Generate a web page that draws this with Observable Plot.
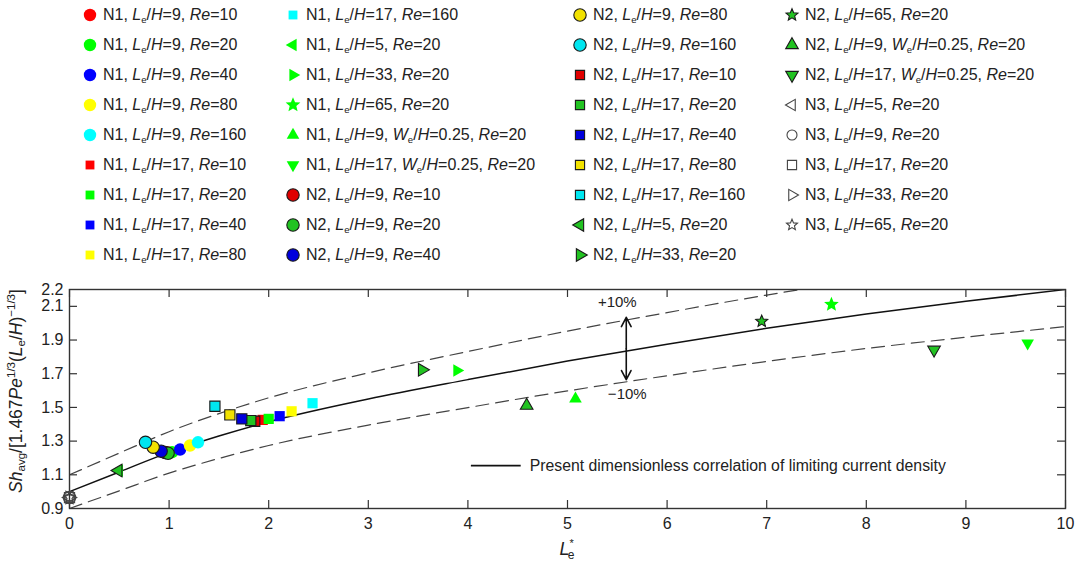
<!DOCTYPE html>
<html><head><meta charset="utf-8">
<script src="https://cdn.jsdelivr.net/npm/d3@7"></script>
<script src="https://cdn.jsdelivr.net/npm/@observablehq/plot@0.6"></script>
<style>
body{margin:0;background:#fff;font-family:"Liberation Sans",Arial,sans-serif;}
#wrap{position:relative;width:1078px;height:565px;overflow:hidden;background:#fff;}
#legend{position:absolute;left:0;top:0;width:1078px;height:270px;}
.sym{position:absolute;width:20px;height:30px;}
.lab{position:absolute;height:30px;line-height:30px;font-size:16px;color:#222;white-space:nowrap;}
.lab sub{font-size:0.6em;vertical-align:-0.3em;line-height:0;}
#chart{position:absolute;left:0;top:270px;}
</style></head><body><div id="wrap"><div id="legend"></div><div id="chart"></div></div>
<script>
// ---------- data ----------
const xTicks = [0,1,2,3,4,5,6,7,8,9,10];
const yTickLabels = [0.9,1.1,1.3,1.5,1.7,1.9,2.1,2.2];
const yTickMarks = [1.1,1.3,1.5,1.7,1.9,2.1];

const seriesNet = ["N1","N1","N1","N1","N1","N1","N1","N1","N1","N1","N1","N1","N1","N1","N1",
                   "N2","N2","N2","N2","N2","N2","N2","N2","N2","N2","N2","N2","N2","N2","N2",
                   "N3","N3","N3","N3","N3"];
const seriesLH  = [9,9,9,9,9,17,17,17,17,17,5,33,65,9,17,
                   9,9,9,9,9,17,17,17,17,17,5,33,65,9,17,
                   5,9,17,33,65];
const seriesWH  = [null,null,null,null,null,null,null,null,null,null,null,null,null,0.25,0.25,
                   null,null,null,null,null,null,null,null,null,null,null,null,null,0.25,0.25,
                   null,null,null,null,null];
const seriesRe  = [10,20,40,80,160,10,20,40,80,160,20,20,20,20,20,
                   10,20,40,80,160,10,20,40,80,160,20,20,20,20,20,
                   20,20,20,20,20];
const seriesX   = [0.99,1.03,1.11,1.21,1.29, 1.94,2.00,2.11,2.23,2.44, 0.50,3.89,7.65,5.08,9.62,
                   0.96,0.99,0.92,0.84,0.763, 1.86,1.82,1.73,1.61,1.46, 0.49,3.54,6.95,4.59,8.68,
                   0,0,0,0,0];
const seriesY   = [1.232,1.234,1.25,1.274,1.293, 1.426,1.432,1.448,1.477,1.525, 1.125,1.719,2.111,1.551,1.881,
                   1.232,1.228,1.24,1.264,1.293, 1.418,1.422,1.432,1.456,1.507, 1.125,1.723,2.011,1.511,1.842,
                   0.965,0.965,0.965,0.965,0.965];

// correlation curve and ±10 % bounds
const corrX  = [0,0.5,1,1.5,2,3,4,5,6,7,8,9,10];
const corrY  = [1.00,1.117,1.233,1.33,1.415,1.55,1.665,1.775,1.875,1.97,2.055,2.13,2.2];
const upperY = [1.10,1.229,1.356,1.463,1.557,1.705,1.832,1.953,2.063,2.167,2.26,2.343,2.42];
const lowerY = [0.90,1.005,1.11,1.197,1.274,1.395,1.499,1.598,1.688,1.773,1.85,1.917,1.98];

// ---------- symbols ----------
const deg = Math.PI/180;
function poly(angles, k){
  return {draw(ctx,size){const R=Math.sqrt(size/Math.PI)*k;
    angles.forEach((a,i)=>{const x=R*Math.cos(a*deg), y=R*Math.sin(a*deg); i?ctx.lineTo(x,y):ctx.moveTo(x,y);});
    ctx.closePath();}};
}
const triUp = poly([-90,30,150],1.3), triDown = poly([90,210,330],1.3);
const triLeft = poly([180,300,60],1.3), triRight = poly([0,120,240],1.3);
const circle = {draw(ctx,size){const R=Math.sqrt(size/Math.PI); ctx.moveTo(R,0); ctx.arc(0,0,R,0,2*Math.PI); ctx.closePath();}};
const square = {draw(ctx,size){const R=Math.sqrt(size/Math.PI)*0.85; ctx.moveTo(-R,-R); ctx.lineTo(R,-R); ctx.lineTo(R,R); ctx.lineTo(-R,R); ctx.closePath();}};
const star = {draw(ctx,size){const R=Math.sqrt(size/Math.PI)*1.25, r=R*0.45;
  for(let i=0;i<10;i++){const a=-Math.PI/2+i*Math.PI/5, rr=i%2?r:R, x=rr*Math.cos(a), y=rr*Math.sin(a); i?ctx.lineTo(x,y):ctx.moveTo(x,y);} ctx.closePath();}};

const reColor   = {10:"#ff0000",20:"#00ff00",40:"#0000ff",80:"#ffff00",160:"#00ffff"};
const reColorN2 = {10:"#e00000",20:"#22c322",40:"#0000dd",80:"#f2e200",160:"#00e6f0"};
function shapeOf(i){const lh=seriesLH[i]; if(seriesWH[i]) return lh===9?triUp:triDown; return {9:circle,17:square,5:triLeft,33:triRight,65:star}[lh];}
function sizeOf(i, leg){const s=shapeOf(i), n=seriesNet[i];
  if(s===star) return n==="N1"?6.2:(n==="N2"?5:4.6);
  if(leg && s===square) return n==="N1"?5.2:5.4;
  if(leg && n==="N3") return 5;
  return s===circle?6.2:s===square?6:5.6;}
function styleOf(i){const n=seriesNet[i];
  if(n==="N1") return {fill:reColor[seriesRe[i]], stroke:"none"};
  if(n==="N2") return {fill:reColorN2[seriesRe[i]], stroke:"#1a1a1a", strokeWidth:1.1};
  return {fill:"none", stroke:"#444", strokeWidth:1.1};}

// ---------- legend ----------
const legend = document.getElementById("legend");
const colCenter = [90,293,580,792];
seriesNet.forEach((n,i)=>{
  const col=Math.floor(i/9), row=i%9, cy=15+row*30, cx=colCenter[col];
  const st=styleOf(i), r=sizeOf(i,true);
  const p=d3.path(); shapeOf(i).draw(p,r*r*Math.PI);
  const s=document.createElementNS("http://www.w3.org/2000/svg","svg");
  s.setAttribute("class","sym"); s.setAttribute("width",20); s.setAttribute("height",30);
  s.style.left=(cx-10)+"px"; s.style.top=(cy-15)+"px";
  s.innerHTML=`<path transform="translate(10,15)" d="${p}" fill="${st.fill}" stroke="${st.stroke}" stroke-width="${st.strokeWidth||0}"/>`;
  legend.appendChild(s);
  const t=document.createElement("div"); t.className="lab";
  t.style.left=(cx+13)+"px"; t.style.top=(cy-15)+"px";
  t.innerHTML=`${n}, <i>L</i><sub>e</sub>/<i>H</i>=${seriesLH[i]}, `+(seriesWH[i]?`<i>W</i><sub>e</sub>/<i>H</i>=${seriesWH[i]}, `:"")+`<i>Re</i>=${seriesRe[i]}`;
  legend.appendChild(t);
});

// ---------- chart ----------
const W=1078,H=295,mL=69,mR=13,mT=19,mB=57, innerW=W-mL-mR, innerH=H-mT-mB;
const pts = seriesNet.map((n,i)=>({x:seriesX[i], y:seriesY[i]}));
const curve = (ys)=>corrX.map((x,i)=>({x, y:ys[i]}));

const svg = Plot.plot({
  width:W, height:H, marginLeft:mL, marginRight:mR, marginTop:mT, marginBottom:mB,
  style:{fontFamily:"Liberation Sans, Arial, sans-serif", color:"#222", background:"transparent"},
  x:{domain:[0,10]}, y:{domain:[0.9,2.2]},
  marks:[
    Plot.line(curve(upperY),{x:"x",y:"y",stroke:"#444",strokeWidth:1.2,strokeDasharray:"13,7",curve:"monotone-x",clip:true}),
    Plot.line(curve(lowerY),{x:"x",y:"y",stroke:"#444",strokeWidth:1.2,strokeDasharray:"13,7",curve:"monotone-x",clip:true}),
    Plot.line(curve(corrY),{x:"x",y:"y",stroke:"#111",strokeWidth:1.5,curve:"monotone-x",clip:true}),
    Plot.tickX(xTicks,{x:d=>d,insetTop:innerH-8,stroke:"#333",strokeWidth:1.2}),
    Plot.tickX(xTicks,{x:d=>d,insetBottom:innerH-8,stroke:"#333",strokeWidth:1.2}),
    Plot.tickY(yTickMarks,{y:d=>d,insetRight:innerW-8,stroke:"#333",strokeWidth:1.2}),
    Plot.tickY(yTickMarks,{y:d=>d,insetLeft:innerW-8,stroke:"#333",strokeWidth:1.2}),
    Plot.frame({stroke:"#333",strokeWidth:1.4}),
    Plot.axisX({ticks:xTicks,tickSize:0,tickPadding:9,fontSize:16,tickFormat:d=>String(d),label:null}),
    Plot.axisY({ticks:yTickLabels,tickSize:0,tickPadding:6,fontSize:16,tickFormat:d=>d.toFixed(1),label:null}),
    // annotations
    Plot.arrow([{x1:5.59,y1:1.848,x2:5.59,y2:2.035}],{x1:"x1",y1:"y1",x2:"x2",y2:"y2",stroke:"#111",strokeWidth:1.6,headLength:12,headAngle:55}),
    Plot.arrow([{x1:5.59,y1:1.848,x2:5.59,y2:1.665}],{x1:"x1",y1:"y1",x2:"x2",y2:"y2",stroke:"#111",strokeWidth:1.6,headLength:12,headAngle:55}),
    Plot.text(["+10%"],{x:5.5,y:2.122,text:d=>d,fontSize:15,fill:"#222"}),
    Plot.text(["\u221210%"],{x:5.6,y:1.577,text:d=>d,fontSize:15,fill:"#222"}),
    Plot.link([{x1:4.03,x2:4.53,y:1.155}],{x1:"x1",x2:"x2",y1:"y",y2:"y",stroke:"#111",strokeWidth:1.8}),
    Plot.text(["Present dimensionless correlation of limiting current density"],{x:4.62,y:1.155,text:d=>d,textAnchor:"start",fontSize:15.8,fill:"#222"}),
    // data points
    ...pts.map((d,i)=>Plot.dot([d],{x:"x",y:"y",symbol:shapeOf(i),r:sizeOf(i,false),...styleOf(i)}))
  ]
});
document.getElementById("chart").appendChild(svg);

// axis titles with sub/superscripts
const sel=d3.select(svg);
const yl=sel.append("text").attr("transform",`translate(22,${121}) rotate(-90)`).attr("text-anchor","middle")
  .attr("font-size",17.5).attr("fill","#222");
const parts=[["Sh","i",0],["avg","",-1],["/[1.467","",0],["Pe","i",0],["1/3","",1],["(","",0],["L","i",0],["e","",-1],["/","",0],["H","i",0],[")","",0],["\u22121/3","",1],["]","",0]];
parts.forEach(([t,it,sh])=>{const ts=yl.append("tspan").text(t);
  if(it) ts.attr("font-style","italic");
  if(sh<0) ts.attr("font-size",11.5).attr("baseline-shift","-25%");
  if(sh>0) ts.attr("font-size",11.5).attr("baseline-shift","55%");});
const xl=sel.append("text").attr("x",mL+innerW/2).attr("y",285).attr("text-anchor","middle").attr("font-size",18).attr("fill","#222");
xl.append("tspan").text("L").attr("font-style","italic");
xl.append("tspan").text("*").attr("font-size",11).attr("baseline-shift","70%");
xl.append("tspan").text("e").attr("font-size",12).attr("dx",-6).attr("baseline-shift","-30%");
</script></body></html>
